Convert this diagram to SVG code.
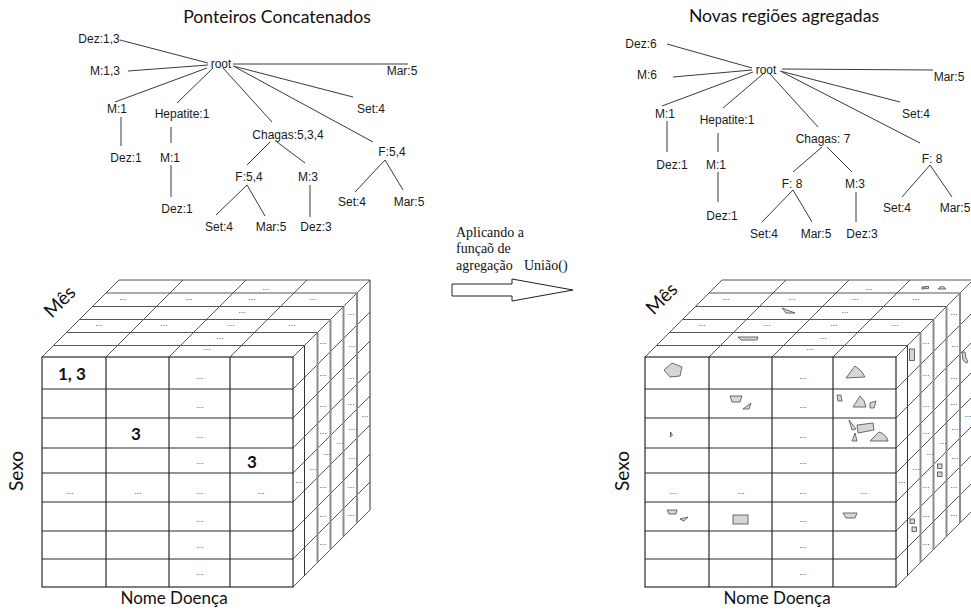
<svg xmlns="http://www.w3.org/2000/svg" width="971" height="610" viewBox="0 0 971 610">
<style>
  .t{font-family:"Liberation Sans",Arial,sans-serif;font-size:12px;fill:#1a1a1a;text-anchor:middle}
  .e{stroke:#3a3a3a;stroke-width:1;fill:none}
  .h{font-family:Lato,"Open Sans",sans-serif;fill:#111}
  .dt{font-family:"Liberation Sans",Arial,sans-serif;font-size:8.5px;fill:#454a5a;text-anchor:middle}
  .g{stroke:#444;stroke-width:0.9;fill:none}
  .f{stroke:#2a2a2a;stroke-width:1.2}
  .sl{stroke:#8c8c8c;stroke-width:2;fill:none}
  .k{stroke:#333;stroke-width:1;fill:none}
  .p{fill:#d6d6d6;stroke:#4a4a4a;stroke-width:0.8}
  .num{font-family:Lato,"Open Sans",sans-serif;font-weight:bold;font-size:17px;fill:#111}
  .s{font-family:"Liberation Serif","Times New Roman",serif;font-size:14px;fill:#111}
</style>
<defs>
  <!-- data cube: 4 columns x 8 rows on the front, 6 slices in depth -->
  <g id="cube">
    <!-- top face -->
    <path class="g" d="M53.5,345.5H304.5 M66.5,332.5H317.5 M79.5,319.5H330.5 M92.5,306.5H343.5 M106,293H357 M119,280H370"/>
    <path class="g" d="M42,357L119,280 M106,357L183,280 M169,357L246,280 M230,357L307,280 M293,357L370,280"/>
    <!-- right face -->
    <path class="g" d="M293,389L370,312 M293,418L370,341 M293,448L370,371 M293,473L370,396 M293,502L370,425 M293,531L370,454 M293,559L370,482 M293,587L370,510"/>
    <path class="sl" d="M317.5,332.5V562.5 M330.5,319.5V549.5 M343.5,306.5V536.5 M357,293V523"/>
    <path class="k" d="M304.5,345.5V575.5 M370,280V510"/>
    <!-- front face -->
    <rect class="f" x="42" y="357" width="251" height="230" fill="#fff"/>
    <path class="f" fill="none" d="M106,357V587 M169,357V587 M230,357V587 M42,389H293 M42,418H293 M42,448H293 M42,473H293 M42,502H293 M42,531H293 M42,559H293"/>
    <!-- elided cells -->
    <g class="dt">
      <text x="266" y="290">...</text>
      <text x="123" y="300">...</text><text x="189" y="300">...</text><text x="252" y="300">...</text><text x="313" y="300">...</text>
      <text x="242" y="313">...</text>
      <text x="99" y="326">...</text><text x="164" y="326">...</text><text x="231" y="326">...</text><text x="292" y="326">...</text>
      <text x="220" y="339">...</text>
      <text x="207" y="350">...</text>
      <text x="351" y="315">...</text><text x="323" y="344">...</text><text x="352" y="347">...</text>
      <text x="323" y="376">...</text><text x="351" y="379">...</text><text x="323" y="407">...</text>
      <text x="351" y="405">...</text><text x="365" y="417">...</text><text x="323" y="434">...</text>
      <text x="352" y="430">...</text><text x="340" y="444">...</text><text x="327" y="455">...</text>
      <text x="352" y="459">...</text><text x="313" y="470">...</text><text x="299" y="483">...</text>
      <text x="323" y="488">...</text><text x="351" y="488">...</text><text x="323" y="517">...</text>
      <text x="351" y="516">...</text><text x="323" y="545">...</text>
      <text x="200" y="379">...</text><text x="200" y="408">...</text><text x="200" y="438">...</text>
      <text x="200" y="464">...</text>
      <text x="70" y="494">...</text><text x="138" y="494">...</text><text x="200" y="494">...</text><text x="261" y="494">...</text>
      <text x="200" y="522">...</text><text x="200" y="548">...</text><text x="200" y="575">...</text>
    </g>
  </g>
</defs>

<!-- titles -->
<text class="h" x="277" y="23" font-size="17.6" text-anchor="middle">Ponteiros Concatenados</text>
<text class="h" x="784" y="22" font-size="17.6" text-anchor="middle">Novas regiões agregadas</text>

<!-- left tree: connectors -->
<g id="edges-left" class="e">
  <line x1="120" y1="40" x2="208" y2="63"/>
  <line x1="128" y1="71" x2="208" y2="65"/>
  <line x1="233" y1="64" x2="408" y2="64"/>
  <line x1="233" y1="66" x2="353" y2="97"/>
  <line x1="207" y1="68" x2="115" y2="102"/>
  <line x1="213" y1="68" x2="177" y2="103"/>
  <line x1="223" y1="68" x2="272" y2="122"/>
  <line x1="235" y1="67" x2="373" y2="142"/>
  <line x1="121" y1="117" x2="121" y2="146"/>
  <line x1="171" y1="127" x2="171" y2="143"/>
  <line x1="171" y1="165" x2="171" y2="197"/>
  <line x1="270" y1="142" x2="247" y2="165"/>
  <line x1="277" y1="142" x2="305" y2="163"/>
  <line x1="247" y1="185" x2="216" y2="215"/>
  <line x1="247" y1="185" x2="265" y2="216"/>
  <line x1="310" y1="185" x2="310" y2="217"/>
  <line x1="385" y1="160" x2="355" y2="192"/>
  <line x1="385" y1="160" x2="403" y2="190"/>
</g>
<!-- left tree: nodes -->
<g id="tree-left" class="t">
  <g id="l-root"><text x="221" y="68">root</text></g>
  <g id="l-dez13"><text x="99" y="43">Dez:1,3</text></g>
  <g id="l-m13"><text x="105" y="75">M:1,3</text></g>
  <g id="l-mar5"><text x="402" y="75">Mar:5</text></g>
  <g id="l-set4"><text x="371" y="113">Set:4</text></g>
  <g id="l-m1"><text x="117" y="113">M:1</text></g>
  <g id="l-hep"><text x="182" y="118">Hepatite:1</text></g>
  <g id="l-chagas"><text x="288" y="139">Chagas:5,3,4</text></g>
  <g id="l-f54"><text x="392" y="156">F:5,4</text></g>
  <g id="l-m1-dez1"><text x="126" y="162">Dez:1</text></g>
  <g id="l-hep-m1"><text x="170" y="162">M:1</text></g>
  <g id="l-hep-m1-dez1"><text x="177" y="213">Dez:1</text></g>
  <g id="l-ch-f54"><text x="249" y="181">F:5,4</text></g>
  <g id="l-ch-m3"><text x="308" y="181">M:3</text></g>
  <g id="l-ch-f-set4"><text x="219" y="231">Set:4</text></g>
  <g id="l-ch-f-mar5"><text x="271" y="231">Mar:5</text></g>
  <g id="l-ch-m3-dez3"><text x="316" y="231">Dez:3</text></g>
  <g id="l-f-set4"><text x="352" y="206">Set:4</text></g>
  <g id="l-f-mar5"><text x="409" y="206">Mar:5</text></g>
</g>

<!-- right tree: connectors -->
<g id="edges-right" class="e">
  <line x1="667" y1="44" x2="752" y2="68"/>
  <line x1="673" y1="77" x2="752" y2="70"/>
  <line x1="782" y1="69" x2="933" y2="70"/>
  <line x1="780" y1="71" x2="900" y2="102"/>
  <line x1="753" y1="72" x2="662" y2="106"/>
  <line x1="763" y1="74" x2="723" y2="108"/>
  <line x1="770" y1="74" x2="818" y2="127"/>
  <line x1="782" y1="72" x2="920" y2="143"/>
  <line x1="667" y1="121" x2="667" y2="152"/>
  <line x1="718" y1="133" x2="718" y2="152"/>
  <line x1="718" y1="172" x2="718" y2="202"/>
  <line x1="822" y1="147" x2="793" y2="172"/>
  <line x1="827" y1="147" x2="852" y2="172"/>
  <line x1="793" y1="190" x2="762" y2="222"/>
  <line x1="793" y1="190" x2="812" y2="222"/>
  <line x1="856" y1="192" x2="856" y2="222"/>
  <line x1="930" y1="165" x2="902" y2="197"/>
  <line x1="930" y1="165" x2="952" y2="197"/>
</g>
<!-- right tree: nodes -->
<g id="tree-right" class="t">
  <g id="r-root"><text x="766" y="74">root</text></g>
  <g id="r-dez6"><text x="641" y="48">Dez:6</text></g>
  <g id="r-m6"><text x="647" y="79">M:6</text></g>
  <g id="r-mar5"><text x="949" y="81">Mar:5</text></g>
  <g id="r-set4"><text x="916" y="118">Set:4</text></g>
  <g id="r-m1"><text x="665" y="118">M:1</text></g>
  <g id="r-hep"><text x="727" y="124">Hepatite:1</text></g>
  <g id="r-chagas"><text x="823" y="143">Chagas: 7</text></g>
  <g id="r-f8"><text x="932" y="163">F: 8</text></g>
  <g id="r-m1-dez1"><text x="672" y="169">Dez:1</text></g>
  <g id="r-hep-m1"><text x="716" y="169">M:1</text></g>
  <g id="r-hep-m1-dez1"><text x="722" y="220">Dez:1</text></g>
  <g id="r-ch-f8"><text x="792" y="188">F: 8</text></g>
  <g id="r-ch-m3"><text x="855" y="188">M:3</text></g>
  <g id="r-ch-f-set4"><text x="764" y="238">Set:4</text></g>
  <g id="r-ch-f-mar5"><text x="816" y="238">Mar:5</text></g>
  <g id="r-ch-m3-dez3"><text x="862" y="238">Dez:3</text></g>
  <g id="r-f-set4"><text x="897" y="212">Set:4</text></g>
  <g id="r-f-mar5"><text x="955" y="212">Mar:5</text></g>
</g>

<!-- transformation arrow -->
<g id="step">
  <text class="s" x="456" y="236.5">Aplicando a</text>
  <text class="s" x="456" y="253">funçaõ de</text>
  <text class="s" x="456" y="269.5">agregação</text>
  <text class="s" x="524" y="269.5" font-size="13">União()</text>
  <polygon points="452,284 512,284 512,279 573,290 512,301 512,296 452,296" fill="#fff" stroke="#222" stroke-width="1"/>
</g>

<!-- left cube -->
<g id="cube-left">
  <use href="#cube"/>
  <text class="num" x="58" y="380">1, 3</text>
  <text class="num" x="136" y="440" text-anchor="middle">3</text>
  <text class="num" x="252" y="468" text-anchor="middle">3</text>
  <text class="h" font-size="19" transform="translate(60,302) rotate(-45)" text-anchor="middle" dy="6">Mês</text>
  <text class="h" font-size="19" transform="translate(17,471) rotate(-90)" text-anchor="middle" dy="6">Sexo</text>
  <text class="h" font-size="17" x="174" y="604" text-anchor="middle">Nome Doença</text>
</g>

<!-- right cube with aggregated regions -->
<g id="cube-right">
  <use href="#cube" x="603"/>
  <g class="p">
    <polygon points="664,370 672,363 682,367 680,376 670,377"/>
    <path d="M846,378 L855,366 Q862,370 865,377 Z"/>
    <polygon points="730,396 742,396 740,402 732,402"/>
    <polygon points="743,409 751,403 749,409"/>
    <polygon points="837,395 841,395 842,401 838,401"/>
    <path d="M853,407 L860,396 Q865,400 866,407 Z"/>
    <polygon points="870,403 876,401 874,408 870,408"/>
    <polygon points="670.5,432 672.5,435 670.5,437"/>
    <polygon points="849,420 856,429 852,430"/>
    <polygon points="857,425 873,423 874,430 858,433"/>
    <polygon points="852,441 855,433 857,441"/>
    <path d="M870,441 L879,432 Q886,434 888,441 Z"/>
    <polygon points="667,510 677,510 676,514 669,514"/>
    <polygon points="680,519 688,517 684,521"/>
    <rect x="733" y="515" width="15" height="9"/>
    <polygon points="843,513 857,513 855,518 846,518"/>
    <polygon points="782,308 795,313 786,313"/>
    <polygon points="738,337 758,337 757,340 741,340"/>
    <rect x="922" y="287" width="2" height="2"/>
    <rect x="925" y="286.5" width="3.5" height="2"/>
    <path d="M938,289 Q942,284 946,289 Z"/>
    <rect x="909.5" y="349" width="5" height="11.5"/>
    <polygon points="962,352 965,352 966,358 968,362 966,363 963,360"/>
    <rect x="937.5" y="464" width="4.5" height="4.5"/>
    <rect x="937.5" y="472" width="4.5" height="4.5"/>
    <rect x="910" y="519" width="4.5" height="4.5"/>
    <rect x="912" y="527" width="4.5" height="4.5"/>
  </g>
  <text class="h" font-size="19" transform="translate(662,299) rotate(-45)" text-anchor="middle" dy="6">Mês</text>
  <text class="h" font-size="19" transform="translate(623,471) rotate(-90)" text-anchor="middle" dy="6">Sexo</text>
  <text class="h" font-size="17" x="777" y="604" text-anchor="middle">Nome Doença</text>
</g>
</svg>
